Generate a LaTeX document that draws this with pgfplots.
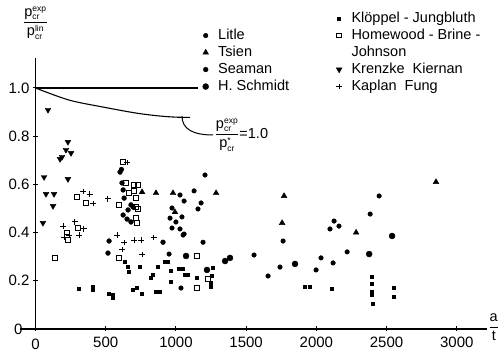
\documentclass[border=0pt]{standalone}
\usepackage{fontspec}
\setmainfont{Liberation Sans}
\usepackage{pgfplots}
\pgfplotsset{compat=1.18}
\newcommand{\pf}[1]{\mbox{p}^{\mbox{\fontsize{8.5}{9}\selectfont #1}}_{\mbox{\fontsize{8.5}{9}\selectfont cr}}}
\pgfplotsset{
 litle/.style={only marks, mark=*, mark size=2.3pt},
 tsien/.style={only marks, mark=triangle*, mark size=3.3pt},
 seaman/.style={only marks, mark=*, mark size=2.4pt},
 schmidt/.style={only marks, mark=*, mark size=3pt},
 kloppel/.style={only marks, mark=square*, mark size=1.5pt},
 homewood/.style={only marks, mark=square, mark size=2.3pt, mark options={line width=1pt}},
 krenzke/.style={only marks, mark=triangle*, mark size=3.3pt, mark options={rotate=180}},
 kaplan/.style={only marks, mark=+, mark size=2.7pt, mark options={line width=1pt}},
}
\begin{document}
\begin{tikzpicture}[x=1pt,y=1pt]
\useasboundingbox (0,0) rectangle (501,355);
\begin{axis}[
  at={(35.5pt,26pt)}, anchor=south west,
  scale only axis, width=451.5pt, height=271pt,
  xmin=0, xmax=3215, ymin=0, ymax=1.1245,
  axis lines=left, axis line style={-, line width=1.1pt},
  clip=false,
  xtick={0,500,...,3000},
  xticklabels={\raisebox{-2pt}[\height][0pt]{0},500,1000,1500,2000,2500,3000},
  xticklabel style={yshift=-4pt, inner sep=1pt},
  ytick={0,0.2,0.4,0.6,0.8,1.0},
  yticklabels={0\hspace*{7pt},0.2,0.4,0.6,0.8,1.0},
  tick align=center, major tick length=5pt, tick style={line width=1pt, black},
  ticklabel style={font=\fontsize{15}{16}\selectfont},
  /pgf/number format/assume math mode=true,
  every axis plot/.append style={black},
  legend columns=2,
  legend cell align=left,
  legend style={draw=none, fill=none, at={(rel axis cs:0.351,1.185)}, anchor=north west,
    font=\fontsize{14.5}{16}\selectfont, row sep=0pt,
    nodes={text height=11pt, text depth=3pt, inner sep=1.5pt},
    /tikz/every odd column/.append style={column sep=8pt},
    /tikz/every even column/.append style={column sep=40pt}},
]
% theoretical curves
\addplot[line width=1.1pt, forget plot, mark=none] coordinates {(0,1)(1160,1)};
\addplot[line width=1.1pt, smooth, forget plot, mark=none] coordinates {(0,1.0)(238,0.95)(480,0.921)(716,0.896)(880,0.884)(1000,0.879)(1100,0.878)};
\draw[line width=1pt] (axis cs:1043,0.884) .. controls (axis cs:1043,0.83) and (axis cs:1120,0.805) .. (axis cs:1264,0.805);
\node[anchor=west, font=\fontsize{14.5}{16}\selectfont, inner sep=1pt] at (axis cs:1268,0.805) {$\displaystyle\frac{\pf{exp}}{\pf{*}}$=1.0};
\node[font=\fontsize{14.5}{16}\selectfont] at (rel axis cs:0,1.129) {$\displaystyle\frac{\pf{exp}}{\pf{lin}}$};
\node[font=\fontsize{14.5}{16}\selectfont] at (rel axis cs:1.015,0.007) {$\displaystyle\frac{\mbox{a}}{\mbox{t}}$};
\draw[line width=1.1pt] (axis cs:-110,0) -- (axis cs:0,0);
% Litle
\addplot[litle, forget plot] coordinates {(1207,0.639)(1129,0.573)(1029,0.556)(1058,0.531)(972,0.502)(1179,0.523)(1157,0.498)(958,0.46)(1043,0.465)(1000,0.444)(972,0.419)(1029,0.415)(1058,0.394)(1193,0.36)(1051,0.39)(951,0.311)(1036,0.17)(1763,0.365)(1741,0.257)(1656,0.22)(2033,0.295)(1998,0.245)(2119,0.274)(2219,0.32)(2097,0.415)(2126,0.448)(2161,0.427)(2383,0.477)(2447,0.552)(1556,0.307)};
% Tsien
\addplot[tsien, forget plot] coordinates {(759,0.568)(858,0.564)(979,0.564)(1286,0.564)(1770,0.552)(1756,0.44)(993,0.485)(2283,0.40)(2852,0.61)};
% Seaman
\addplot[seaman, forget plot] coordinates {(602,0.651)(612,0.662)(616,0.606)(624,0.577)(631,0.543)(680,0.515)(695,0.506)(624,0.473)(652,0.456)(680,0.444)(659,0.494)(524,0.365)(516,0.315)(908,0.36)};
% H. Schmidt
\addplot[schmidt, forget plot] coordinates {(1072,0.303)(1221,0.245)(1350,0.282)(1385,0.295)(1848,0.27)(2376,0.311)(2539,0.386)};
% Kloppel - Jungbluth
\addplot[kloppel, forget plot] coordinates {(310,0.166)(410,0.174)(410,0.162)(524,0.145)(552,0.141)(552,0.129)(638,0.278)(659,0.257)(666,0.236)(745,0.257)(695,0.162)(724,0.17)(759,0.145)(836,0.224)(823,0.212)(858,0.153)(887,0.153)(873,0.257)(922,0.278)(944,0.278)(965,0.24)(1022,0.249)(1051,0.249)(1065,0.224)(1085,0.224)(965,0.195)(1150,0.212)(1264,0.253)(1257,0.22)(1250,0.191)(1250,0.174)(1920,0.174)(1950,0.174)(2112,0.166)(2397,0.216)(2397,0.19)(2397,0.154)(2397,0.141)(2404,0.104)(2553,0.17)(2553,0.133)};
% Homewood - Brine - Johnson
\addplot[homewood, forget plot] coordinates {(296,0.548)(360,0.523)(303,0.419)(231,0.37)(224,0.40)(139,0.295)(595,0.295)(1150,0.303)(1150,0.17)(1230,0.207)(624,0.693)(645,0.606)(702,0.598)(730,0.598)(702,0.573)(666,0.564)(716,0.543)(595,0.515)(716,0.506)(730,0.498)(716,0.46)(724,0.44)};
% Krenzke Kiernan
\addplot[krenzke, forget plot] coordinates {(89,0.909)(231,0.776)(217,0.743)(253,0.73)(189,0.714)(175,0.705)(61,0.63)(231,0.622)(75,0.56)(132,0.56)(125,0.51)(53,0.44)};
% Kaplan Fung
\addplot[kaplan, forget plot] coordinates {(339,0.57)(388,0.56)(410,0.52)(516,0.54)(652,0.69)(196,0.427)(281,0.444)(203,0.38)(239,0.39)(310,0.39)(345,0.415)(581,0.39)(631,0.36)(702,0.369)(752,0.369)(843,0.38)(617,0.33)(759,0.31)};
% legend
\addlegendimage{empty legend}\addlegendentry{}
\addlegendimage{kloppel}\addlegendentry{Klöppel - Jungbluth}
\addlegendimage{litle}\addlegendentry{Litle}
\addlegendimage{homewood}\addlegendentry{Homewood - Brine -}
\addlegendimage{tsien}\addlegendentry{Tsien}
\addlegendimage{empty legend}\addlegendentry{Johnson}
\addlegendimage{seaman}\addlegendentry{Seaman}
\addlegendimage{krenzke}\addlegendentry{Krenzke\ \ Kiernan}
\addlegendimage{schmidt}\addlegendentry{H. Schmidt}
\addlegendimage{kaplan}\addlegendentry{Kaplan\ \ Fung}
\end{axis}
\end{tikzpicture}
\end{document}
